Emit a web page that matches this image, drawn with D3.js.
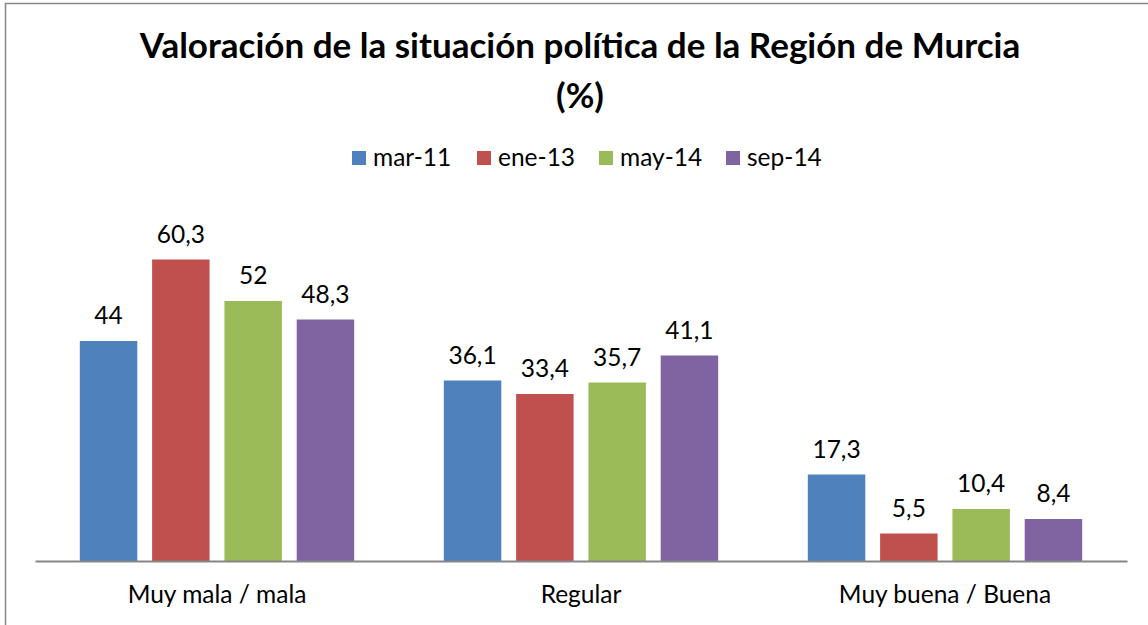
<!DOCTYPE html>
<html><head><meta charset="utf-8">
<script src="https://cdn.jsdelivr.net/npm/d3@7"></script>
<style>body{margin:0;background:#fff}svg{display:block}</style>
</head><body>
<script>
const categories = ["Muy mala / mala", "Regular", "Muy buena / Buena"];
const seriesNames = ["mar-11", "ene-13", "may-14", "sep-14"];
const mar11 = [44, 36.1, 17.3];
const ene13 = [60.3, 33.4, 5.5];
const may14 = [52, 35.7, 10.4];
const sep14 = [48.3, 41.1, 8.4];
const seriesValues = [mar11, ene13, may14, sep14];
const colors = ["#4F81BD", "#C0504D", "#9BBB59", "#8064A2"];
const titleLines = ["Valoración de la situación política de la Región de Murcia", "(%)"];

const W = 1148, H = 625;
const FONT = "Lato, 'Open Sans', sans-serif";
const svg = d3.select("body").append("svg").attr("width", W).attr("height", H);

svg.append("rect").attr("x", 5.5).attr("y", 3.5).attr("width", W + 10).attr("height", H + 10)
  .attr("fill", "#fff").attr("stroke", "#868686").attr("stroke-width", 1.5);

const plot = {left: 35, right: 1127, top: 211, bottom: 561};
const x0 = d3.scaleBand().domain(categories).range([plot.left, plot.right]).paddingInner(0).paddingOuter(0);
const x1 = d3.scaleBand().domain(seriesNames).range([0, x0.bandwidth()]).paddingInner(0.205).paddingOuter(0.62);
const y = d3.scaleLinear().domain([0, 70]).range([plot.bottom, plot.top]);

// title
svg.append("text").attr("x", 580).attr("y", 58).attr("text-anchor", "middle")
  .attr("font-family", FONT).attr("font-weight", "bold").attr("font-size", 35).attr("fill", "#000")
  .text(titleLines[0]);
svg.append("text").attr("x", 580).attr("y", 108).attr("text-anchor", "middle")
  .attr("font-family", FONT).attr("font-weight", "bold").attr("font-size", 35).attr("fill", "#000")
  .text(titleLines[1]);

// legend
const legendX = [352, 477, 599, 726];
const lg = svg.append("g");
seriesNames.forEach((s, i) => {
  lg.append("rect").attr("x", legendX[i]).attr("y", 151).attr("width", 14).attr("height", 14).attr("fill", colors[i]);
  lg.append("text").attr("x", legendX[i] + 21).attr("y", 166).attr("font-family", FONT)
    .attr("font-size", 24.5).attr("fill", "#000").text(s);
});

// bars
const groups = svg.append("g").selectAll("g").data(categories).join("g")
  .attr("transform", d => `translate(${x0(d)},0)`);
seriesNames.forEach((s, si) => {
  groups.append("rect")
    .attr("x", x1(s)).attr("width", x1.bandwidth())
    .attr("y", (d, ci) => y(seriesValues[si][ci]))
    .attr("height", (d, ci) => y(0) - y(seriesValues[si][ci]))
    .attr("fill", colors[si]);
  groups.append("text")
    .attr("x", x1(s) + x1.bandwidth() / 2)
    .attr("y", (d, ci) => y(seriesValues[si][ci]) - 17)
    .attr("text-anchor", "middle").attr("font-family", FONT).attr("font-size", 24.5).attr("fill", "#000")
    .text((d, ci) => String(seriesValues[si][ci]).replace(".", ","));
});

// axis
const xAxis = d3.axisBottom(x0).tickSize(0).tickPadding(0);
const ax = svg.append("g").attr("transform", `translate(0,${plot.bottom})`).call(xAxis);
ax.select(".domain").attr("stroke", "#868686").attr("stroke-width", 2);
ax.selectAll(".tick text").attr("font-family", FONT).attr("font-size", 24.5).attr("fill", "#000")
  .attr("dy", null).attr("y", 42);
</script>
</body></html>
